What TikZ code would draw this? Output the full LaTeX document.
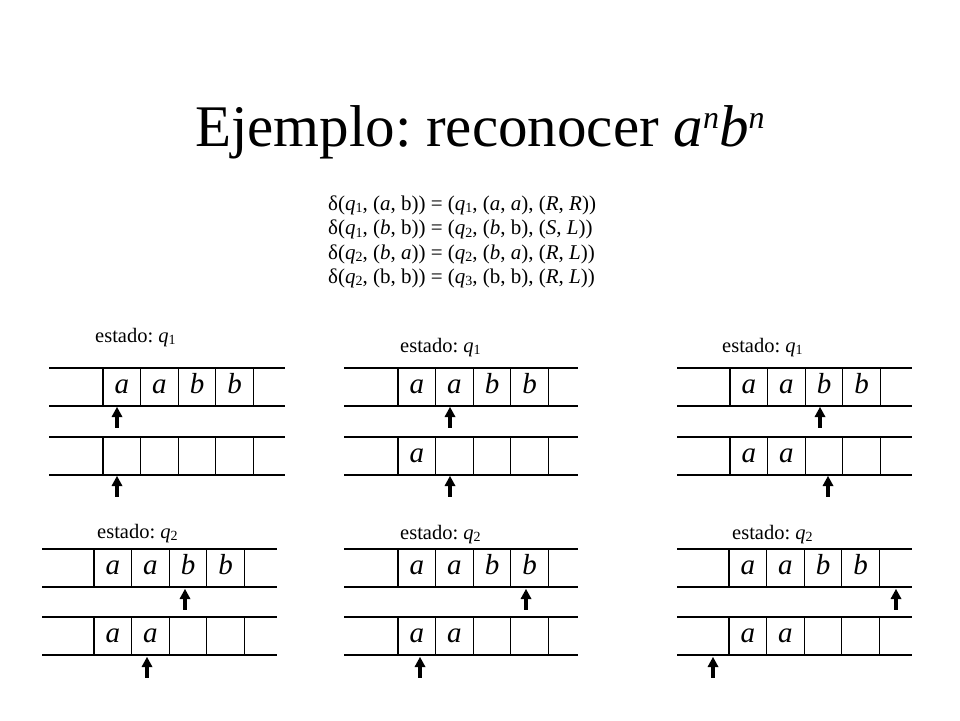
\documentclass[tikz,border=0pt]{standalone}
\usepackage{fontspec}
\setmainfont{Liberation Serif}[ItalicFont={Liberation Serif Italic}]
\frenchspacing
\newcommand{\sbs}[1]{\raisebox{-0.3ex}{\fontsize{14}{14}\selectfont #1}}
\newcommand{\supn}{\raisebox{18pt}{\fontsize{32}{32}\selectfont\itshape n}}
\newcommand{\tapecells}[4]{% x0, left, right, ytop
  \draw[tapeline] (#2,#4) -- (#3,#4);
  \draw[tapeline] (#2,#4+38) -- (#3,#4+38);
  \foreach \k in {0,...,4} {\draw[tapeline] (#1+\k*37.6,#4) -- (#1+\k*37.6,#4+38);}
}
\newcommand{\headarrow}[2]{% x, y of tip
  \fill (#1-2,#2+21) rectangle (#1+2,#2+8);
  \fill (#1,#2) -- (#1+5.5,#2+10) -- (#1-5.5,#2+10) -- cycle;
}
\tikzset{
  tapeline/.style={line width=1.3pt},
  sym/.style={anchor=base, inner sep=0pt, font=\fontsize{29}{29}\selectfont\itshape},
  lbl/.style={anchor=base west, inner sep=0pt, font=\fontsize{20.5}{20.5}\selectfont},
  formula/.style={anchor=base west, inner sep=0pt, font=\fontsize{21}{21}\selectfont},
}
\begin{document}
\begin{tikzpicture}[x=1pt,y=-1pt]
\useasboundingbox (0,0) rectangle (960,720);
\fill[white] (0,0) rectangle (960,720);
% title
\node[anchor=base west, inner sep=0pt, font=\fontsize{59}{59}\selectfont] (title) at (195,146) {Ejemplo: reconocer \textit{a}\supn\textit{b}\supn};
% formulas
\node[formula] (f1) at (328,210) {δ(\textit{q}\sbs{1}, (\textit{a}, b)) = (\textit{q}\sbs{1}, (\textit{a}, \textit{a}), (\textit{R}, \textit{R}))};
\node[formula] (f2) at (328,234.5) {δ(\textit{q}\sbs{1}, (\textit{b}, b)) = (\textit{q}\sbs{2}, (\textit{b}, b), (\textit{S}, \textit{L}))};
\node[formula] (f3) at (328,259) {δ(\textit{q}\sbs{2}, (\textit{b}, \textit{a})) = (\textit{q}\sbs{2}, (\textit{b}, \textit{a}), (\textit{R}, \textit{L}))};
\node[formula] (f4) at (328,283) {δ(\textit{q}\sbs{2}, (b, b)) = (\textit{q}\sbs{3}, (b, b), (\textit{R}, \textit{L}))};

% ---------- panel 1 ----------
\node[lbl] (l1) at (95,342) {estado: \textit{q}\sbs{1}};
\tapecells{103}{49}{285}{368}
\tapecells{103}{49}{285}{437}
\node[sym] (p1a) at (121.8,393) {a};
\node[sym] (p1b) at (159.4,393) {a};
\node[sym] (p1c) at (197,393) {b};
\node[sym] (p1d) at (234.6,393) {b};
\headarrow{117}{407}
\headarrow{117}{476}

% ---------- panel 2 ----------
\node[lbl] (l2) at (400,352) {estado: \textit{q}\sbs{1}};
\tapecells{398}{344}{578}{368}
\tapecells{398}{344}{578}{437}
\node[sym] (p2a) at (416.8,393) {a};
\node[sym] (p2b) at (454.4,393) {a};
\node[sym] (p2c) at (492,393) {b};
\node[sym] (p2d) at (529.6,393) {b};
\node[sym] (p2e) at (416.8,462) {a};
\headarrow{450}{407}
\headarrow{450}{476}

% ---------- panel 3 ----------
\node[lbl] (l3) at (722,352) {estado: \textit{q}\sbs{1}};
\tapecells{730}{677}{912}{368}
\tapecells{730}{677}{912}{437}
\node[sym] (p3a) at (748.8,393) {a};
\node[sym] (p3b) at (786.4,393) {a};
\node[sym] (p3c) at (824,393) {b};
\node[sym] (p3d) at (861.6,393) {b};
\node[sym] (p3e) at (748.8,462) {a};
\node[sym] (p3f) at (786.4,462) {a};
\headarrow{820}{407}
\headarrow{828}{476}

% ---------- panel 4 ----------
\node[lbl] (l4) at (97,538) {estado: \textit{q}\sbs{2}};
\tapecells{94}{42}{277}{549}
\tapecells{94}{42}{277}{617}
\node[sym] (p4a) at (112.8,574) {a};
\node[sym] (p4b) at (150.4,574) {a};
\node[sym] (p4c) at (188,574) {b};
\node[sym] (p4d) at (225.6,574) {b};
\node[sym] (p4e) at (112.8,642) {a};
\node[sym] (p4f) at (150.4,642) {a};
\headarrow{185}{589}
\headarrow{147}{657}

% ---------- panel 5 ----------
\node[lbl] (l5) at (400,539) {estado: \textit{q}\sbs{2}};
\tapecells{398}{344}{578}{549}
\tapecells{398}{344}{578}{617}
\node[sym] (p5a) at (416.8,574) {a};
\node[sym] (p5b) at (454.4,574) {a};
\node[sym] (p5c) at (492,574) {b};
\node[sym] (p5d) at (529.6,574) {b};
\node[sym] (p5e) at (416.8,642) {a};
\node[sym] (p5f) at (454.4,642) {a};
\headarrow{526}{589}
\headarrow{420}{657}

% ---------- panel 6 ----------
\node[lbl] (l6) at (732,539) {estado: \textit{q}\sbs{2}};
\tapecells{729}{677}{912}{549}
\tapecells{729}{677}{912}{617}
\node[sym] (p6a) at (747.8,574) {a};
\node[sym] (p6b) at (785.4,574) {a};
\node[sym] (p6c) at (823,574) {b};
\node[sym] (p6d) at (860.6,574) {b};
\node[sym] (p6e) at (747.8,642) {a};
\node[sym] (p6f) at (785.4,642) {a};
\headarrow{896}{589}
\headarrow{713}{657}
\end{tikzpicture}
\end{document}
